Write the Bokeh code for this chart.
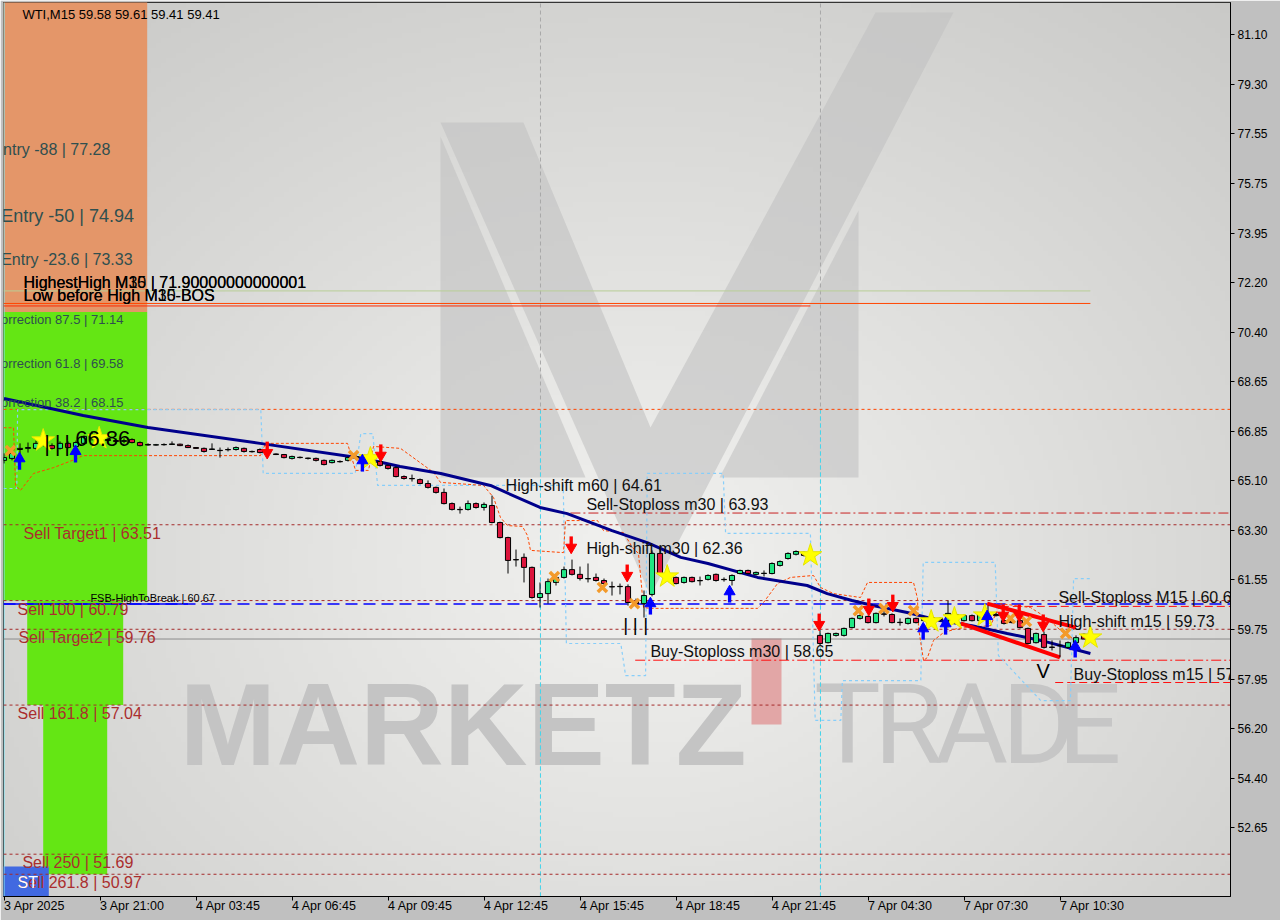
import numpy as np
from bokeh.plotting import figure
from bokeh.models import Range1d, FixedTicker, Label, NumeralTickFormatter
from bokeh.embed import file_html
from bokeh.resources import INLINE
from bokeh.core.properties import value

# ---------------- data ----------------
bar_open = [65.82, 65.89, 66.21, 66.25, 66.25, 66.39, 66.35, 66.25, 66.43, 66.32,
            66.43, 66.75, 66.64, 66.57, 66.53, 66.50, 66.57, 66.46, 66.39, 66.37,
            66.38, 66.39, 66.40, 66.35, 66.28, 66.25, 66.21, 66.18, 66.21, 66.21,
            66.25, 66.14, 66.21, 66.17, 66.05, 66.03, 65.89, 65.93, 65.90, 65.89,
            65.82, 65.74, 65.78, 65.82, 65.92, 65.96, 65.92, 65.78, 65.64, 65.56,
            65.24, 65.17, 65.13, 64.99, 64.85, 64.67, 64.27, 64.06, 64.06, 64.27,
            64.13, 64.20, 63.59, 63.05, 62.26, 62.34, 61.98, 60.90, 61.04, 61.44,
            61.62, 61.90, 61.73, 61.58, 61.62, 61.51, 61.29, 61.29, 61.29, 60.76,
            60.68, 61.01, 62.48, 61.76, 61.62, 61.44, 61.62, 61.51, 61.55, 61.73,
            61.55, 61.51, 61.76, 61.87, 61.73, 61.77, 61.76, 62.05, 62.30, 62.45,
            62.52, 62.41, 59.54, 59.28, 59.54, 59.54, 59.82, 60.15, 60.22, 60.00,
            60.31, 60.29, 60.01, 59.97, 60.15, 60.07, 60.18, 60.15, 60.07, 60.29,
            60.07, 60.25, 60.07, 60.25, 60.29, 60.07, 60.04, 60.07, 59.79, 59.28,
            59.57, 59.12, 59.17, 59.11, 59.28, 59.58]
bar_high = [66.07, 66.17, 66.43, 66.46, 66.53, 66.61, 66.43, 66.50, 66.50, 66.53,
            66.71, 66.86, 66.68, 66.64, 66.61, 66.61, 66.61, 66.50, 66.43, 66.41,
            66.43, 66.50, 66.42, 66.39, 66.30, 66.28, 66.43, 66.28, 66.28, 66.32,
            66.28, 66.17, 66.25, 66.21, 66.07, 66.05, 65.99, 65.96, 65.92, 65.92,
            65.85, 65.85, 65.82, 65.96, 66.00, 66.03, 65.99, 65.82, 65.67, 65.60,
            65.28, 65.31, 65.17, 65.10, 64.88, 64.81, 64.31, 64.16, 64.38, 64.31,
            64.31, 64.56, 63.62, 63.08, 62.62, 62.48, 62.01, 61.44, 61.58, 61.69,
            62.01, 62.26, 62.01, 62.12, 61.76, 61.58, 61.47, 61.40, 61.37, 60.86,
            61.15, 62.59, 62.66, 61.83, 61.65, 61.65, 61.65, 61.65, 61.73, 61.76,
            61.62, 61.73, 61.90, 61.90, 61.83, 61.87, 62.16, 62.23, 62.52, 62.59,
            62.55, 62.45, 59.72, 59.64, 59.64, 59.82, 60.18, 60.29, 60.25, 60.36,
            60.43, 60.33, 60.15, 60.18, 60.18, 60.22, 60.25, 60.18, 60.79, 60.36,
            60.29, 60.29, 60.33, 60.61, 60.36, 60.11, 60.11, 60.11, 59.82, 59.64,
            59.68, 59.36, 59.36, 59.32, 59.54, 59.61]
bar_low = [65.71, 65.82, 65.99, 66.10, 66.21, 66.32, 66.21, 66.21, 66.25, 66.28,
           66.39, 66.53, 66.53, 66.46, 66.43, 66.43, 66.43, 66.32, 66.35, 66.35,
           66.35, 66.37, 66.33, 66.26, 66.23, 66.10, 66.20, 65.92, 66.14, 66.17,
           66.10, 66.10, 66.07, 66.07, 66.01, 65.89, 65.85, 65.89, 65.85, 65.78,
           65.64, 65.71, 65.74, 65.78, 65.89, 65.85, 65.78, 65.60, 65.49, 65.21,
           65.13, 65.06, 64.96, 64.81, 64.63, 64.24, 64.02, 63.91, 64.02, 64.09,
           64.02, 63.56, 63.02, 61.76, 62.01, 61.44, 60.86, 60.54, 60.68, 61.33,
           61.58, 61.69, 61.51, 61.44, 61.47, 61.29, 60.97, 61.01, 60.61, 60.58,
           60.18, 60.94, 61.73, 61.62, 61.37, 61.40, 61.44, 61.33, 61.51, 61.47,
           61.47, 61.33, 61.73, 61.73, 61.69, 61.65, 61.73, 62.01, 62.26, 62.41,
           62.37, 62.34, 59.18, 59.25, 59.50, 59.50, 59.79, 60.11, 59.97, 59.97,
           60.22, 59.97, 59.89, 59.93, 59.97, 60.04, 60.11, 60.04, 60.04, 60.18,
           60.04, 60.04, 60.04, 60.22, 60.22, 59.93, 59.97, 59.79, 59.22, 59.25,
           59.07, 59.00, 58.75, 59.07, 59.25, 59.41]
bar_close = [65.92, 66.07, 66.25, 66.28, 66.43, 66.50, 66.25, 66.43, 66.28, 66.46,
             66.68, 66.64, 66.57, 66.53, 66.50, 66.53, 66.46, 66.35, 66.37, 66.38,
             66.39, 66.41, 66.35, 66.28, 66.25, 66.14, 66.23, 66.17, 66.20, 66.28,
             66.14, 66.13, 66.10, 66.10, 66.03, 65.92, 65.96, 65.92, 65.89, 65.82,
             65.67, 65.82, 65.77, 65.92, 65.96, 65.92, 65.85, 65.64, 65.53, 65.24,
             65.17, 65.16, 64.99, 64.85, 64.67, 64.27, 64.06, 64.05, 64.27, 64.13,
             64.24, 63.59, 63.05, 62.23, 62.25, 61.98, 60.90, 61.04, 61.47, 61.62,
             61.90, 61.73, 61.58, 61.57, 61.51, 61.40, 61.28, 61.30, 60.72, 60.68,
             60.97, 62.48, 61.76, 61.65, 61.40, 61.62, 61.47, 61.50, 61.69, 61.51,
             61.54, 61.69, 61.87, 61.76, 61.80, 61.76, 62.12, 62.19, 62.48, 62.55,
             62.41, 62.38, 59.25, 59.61, 59.61, 59.79, 60.15, 60.25, 60.00, 60.33,
             60.30, 60.00, 60.00, 60.15, 60.00, 60.18, 60.15, 60.11, 60.33, 60.22,
             60.25, 60.07, 60.29, 60.29, 60.25, 59.97, 60.00, 59.82, 59.25, 59.61,
             59.11, 59.11, 59.18, 59.28, 59.46, 59.41]

x_tick_bars = [0, 12, 24, 36, 48, 60, 72, 84, 96, 108, 120, 132]
x_tick_labels = ["3 Apr 2025", "3 Apr 21:00", "4 Apr 03:45", "4 Apr 06:45", "4 Apr 09:45",
                 "4 Apr 12:45", "4 Apr 15:45", "4 Apr 18:45", "4 Apr 21:45", "7 Apr 04:30",
                 "7 Apr 07:30", "7 Apr 10:30"]
y_ticks = [81.10, 79.30, 77.55, 75.75, 73.95, 72.20, 70.40, 68.65, 66.85, 65.10,
           63.30, 61.55, 59.75, 57.95, 56.20, 54.40, 52.65]

# moving average (navy)
ma_bar = [0, 9.9, 18, 32, 45, 49.5, 54.6, 60.8, 67, 70.4, 76, 80.4, 84.6, 88, 94.2,
          100.4, 102.9, 106, 108.6, 112.9, 117, 121, 125.4, 129.6, 135.8]
ma_price = [68.04, 67.43, 67.00, 66.43, 65.89, 65.60, 65.35, 64.92, 64.13, 63.91, 63.30,
            62.87, 62.34, 62.12, 61.62, 61.33, 61.04, 60.79, 60.61, 60.36, 60.07, 59.89,
            59.61, 59.36, 58.89]

# orange dashed envelope
env_bar = [-0.06, 1.19, 1.44, 2.06, 3.69, 6.19, 9.19, 9.81, 32.06, 32.69, 42.94, 43.94,
           45.56, 46.19, 49.56, 53.69, 54.56, 59.94, 61.19, 62.06, 62.94, 64.81, 65.44,
           65.81, 69.94, 70.19, 74.19, 74.94, 77.44, 78.56, 79.31, 79.94, 80.81, 94.19,
           94.94, 96.69, 98.31, 101.19, 102.06, 103.69, 107.06, 107.94, 113.69, 114.19,
           114.31, 114.94, 115.44, 116.19, 117.44, 119.19, 123.31, 124.56, 128.31,
           130.44, 132.06, 133.94]
env_price = [66.99, 66.99, 64.92, 64.74, 65.35, 65.56, 65.89, 65.99, 65.99, 66.43, 66.43,
             65.46, 65.46, 66.32, 66.25, 65.39, 65.03, 64.92, 64.49, 63.77, 63.48, 63.45,
             63.12, 62.59, 62.51, 63.66, 63.66, 63.30, 63.23, 62.69, 62.48, 60.54, 60.51,
             60.51, 60.72, 61.40, 61.62, 61.69, 61.26, 61.04, 60.90, 61.44, 61.44, 60.86,
             59.82, 58.64, 58.75, 59.36, 59.64, 59.79, 59.89, 60.68, 60.54, 60.15, 59.72,
             59.36]

# light-blue dashed channel
chan_bar = [-0.06, 1.6, 1.7, 32.1, 32.4, 43.9, 44.6, 46.1, 46.7, 69.9, 70.3, 77.1, 77.7,
            80.2, 80.4, 89.9, 90.2, 100.8, 101.4, 104.6, 104.8, 114.6, 114.9, 123.9,
            124.3, 129.6, 133.3, 133.7, 136.1]
chan_price = [64.81, 64.81, 67.64, 67.64, 65.35, 65.35, 66.78, 66.78, 64.92, 64.92, 59.25,
              59.25, 58.10, 58.10, 65.35, 65.35, 63.20, 63.20, 56.49, 56.49, 57.92, 57.92,
              62.16, 62.16, 58.82, 57.20, 57.20, 61.58, 61.58]

# signals
up_bar = [1.94, 8.94, 44.8, 80.8, 90.7, 114.9, 117.7, 122.9, 133.9]
up_price = [65.99, 66.25, 65.92, 60.79, 61.22, 59.89, 60.07, 60.33, 59.25]
down_bar = [32.9, 47.1, 70.9, 77.9, 101.9, 108.1, 111.1, 124.9, 126.9, 129.9]
down_price = [65.99, 65.89, 62.59, 61.58, 59.82, 60.36, 60.50, 60.15, 60.15, 59.79]
cross_bar = [0.8, 43.7, 68.8, 74.8, 78.8, 106.8, 110.0, 113.7, 125.8, 127.8, 132.7]
cross_price = [66.17, 65.99, 61.65, 61.26, 60.68, 60.43, 60.50, 60.43, 60.15, 60.04, 59.61]
star_bar = [4.9, 11.9, 45.8, 82.9, 100.8, 115.9, 118.8, 122.6, 135.8]
star_price = [66.53, 66.61, 65.89, 61.65, 62.41, 60.04, 60.15, 60.25, 59.46]

# zones (bar_left, bar_right, price_top, price_bottom)
zone_left = [-0.5, -0.5, 2.9, 4.9, -0.5]
zone_right = [17.9, 17.9, 14.9, 12.9, 5.6]
zone_top = [83.0, 71.14, 60.79, 57.04, 51.25]
zone_bottom = [71.14, 60.79, 57.04, 50.97, 50.0]
zone_color = ["#e49669", "#64e614", "#64e614", "#64e614", "#4169e1"]

# full-width levels
lvl_price = [63.51, 60.79, 59.76, 57.04, 51.69, 50.97]
lvl_names = ["Sell Target1 | 63.51", "Sell 100 | 60.79", "Sell Target2 | 59.76",
             "Sell 161.8 | 57.04", "Sell  250 | 51.69", "Sell  261.8 | 50.97"]
lvl_text_bar = [2.44, 1.7, 1.8, 1.7, 2.3, 1.7]

fib_price = [77.28, 74.94, 73.33, 71.14, 69.58, 68.15]
fib_names = ["Entry -88 | 77.28", "Entry -50 | 74.94", "Entry -23.6 | 73.33",
             "correction 87.5 | 71.14", "correction 61.8 | 69.58", "correction 38.2 | 68.15"]
fib_text_bar = [-1.45, -0.35, -0.35, -1.2, -1.2, -1.2]
fib_size = ["16px", "18px", "16px", "13px", "13px", "13px"]

shift_price = [64.61, 63.93, 62.36, 58.65, 60.60, 59.73, 57.85]
shift_names = ["High-shift m60 | 64.61", "Sell-Stoploss m30 | 63.93", "High-shift m30 | 62.36",
               "Buy-Stoploss m30 | 58.65", "Sell-Stoploss M15 | 60.60", "High-shift m15 | 59.73",
               "Buy-Stoploss m15 | 57.85"]
shift_text_bar = [62.7, 72.8, 72.8, 80.8, 131.8, 131.8, 133.7]

axis_tags = [67.65, 63.51, 60.79, 60.67, 59.76, 59.41, 57.04, 51.69, 50.97]
axis_tag_colors = ["#ff4500", "#a52a2a", "#a52a2a", "#0000ff", "#a52a2a", "#000000",
                   "#a52a2a", "#a52a2a", "#a52a2a"]

last_price = 59.41
fsb_price = 60.67

# ---------------- figure ----------------
X0, X1 = -0.0625, 153.3125
Y0, Y1 = 50.172, 82.248
FW, FH = 1227, 894
PXB = (X1 - X0) / FW
PYP = (Y1 - Y0) / FH

p = figure(frame_width=FW, frame_height=FH, x_range=Range1d(X0, X1), y_range=Range1d(Y0, Y1),
           output_backend="svg", toolbar_location=None, y_axis_location="right",
           min_border_left=3, min_border_right=50, min_border_top=2, min_border_bottom=24)
p.border_fill_color = "#c0c0c0"
p.background_fill_color = "#e2e2e2"
p.outline_line_color = "black"
p.outline_line_width = 1
p.grid.visible = False

# gradient background
H, W = 180, 250
yy, xx = np.mgrid[0:H, 0:W]
gx = xx / (W - 1) * FW
gy = (1 - yy / (H - 1)) * FH
d = np.sqrt(((gx - 640) / 760.0) ** 2 + ((gy - 560) / 620.0) ** 2)
v = np.clip(242 - 34 * d, 0, 255).astype(np.uint8)
img = np.empty((H, W), dtype=np.uint32)
view = img.view(dtype=np.uint8).reshape((H, W, 4))
view[..., 0] = v
view[..., 1] = v
view[..., 2] = np.clip(v.astype(int) - 2, 0, 255).astype(np.uint8)
view[..., 3] = 255
p.image_rgba(image=[img], x=X0, y=Y0, dw=X1 - X0, dh=Y1 - Y0)

def bx(px):
    return X0 + px * PXB

def py(pix):
    return Y1 - pix * PYP

# watermark logo (decoration, placed in screen pixels)
logo_v = [(437, 120), (520, 120), (647, 425), (872, 10), (950, 10), (647, 593)]
logo_left = [(437, 134), (437, 475), (582, 475)]
logo_right = [(855, 208), (855, 475), (716, 475)]
for poly in [logo_left, logo_right, logo_v]:
    p.patch([bx(a) for a, b in poly], [py(b) for a, b in poly], fill_color="#c2c2c2",
            fill_alpha=0.6, line_color=None)

# watermark text
p.text(x=[bx(176)], y=[py(722)], text=["MARKETZ"], text_font=value("Liberation Sans"),
       text_font_style="bold", text_font_size="116px", text_color="#c4c4c4",
       text_baseline="alphabetic", text_align="left")
p.quad(left=[bx(748)], right=[bx(778)], top=[py(636)], bottom=[py(722)],
       fill_color="#e2a6a6", line_color=None)
for ch, cx in zip("TRADE", [844, 905, 968, 1035, 1086]):
    p.text(x=[bx(cx)], y=[py(722)], text=[ch], text_font=value("Roboto"),
           text_font_size="112px", text_color="#c6c6c6", text_baseline="alphabetic",
           text_align="center")

# zones
p.quad(left=zone_left, right=zone_right, top=zone_top, bottom=zone_bottom,
       fill_color=zone_color, line_color=None)

# period separators
for sb in [67.06, 102.06]:
    p.segment(x0=[sb], y0=[Y0], x1=[sb], y1=[Y1], line_color="#a8a8a8", line_dash="4 3")
    p.segment(x0=[sb], y0=[Y0], x1=[sb], y1=[67.6], line_color="#3fd8f0", line_dash="4 3")
p.segment(x0=[0.0], y0=[Y0], x1=[0.0], y1=[Y1], line_color="#7fe8f8", line_width=1)

# level lines
p.segment(x0=[X0], y0=[67.65], x1=[X1], y1=[67.65], line_color="#ff4500", line_dash="3 3")
p.segment(x0=[X0] * len(lvl_price), y0=lvl_price, x1=[X1] * len(lvl_price), y1=lvl_price,
          line_color="#a52a2a", line_dash="3 3")
p.segment(x0=[X0], y0=[last_price], x1=[X1], y1=[last_price], line_color="#8c8c8c", line_width=1)
p.segment(x0=[X0], y0=[fsb_price], x1=[X1], y1=[fsb_price], line_color="#0000ff",
          line_dash="12 6", line_width=1.5)
p.segment(x0=[X0], y0=[fsb_price], x1=[23.0], y1=[fsb_price], line_color="#0000ff", line_width=1.5)
p.segment(x0=[70.8], y0=[63.93], x1=[X1], y1=[63.93], line_color="#c82020", line_dash="10 3 2 3")
p.segment(x0=[78.9], y0=[58.65], x1=[X1], y1=[58.65], line_color="#ff1010", line_dash="10 3 2 3")
p.segment(x0=[124.6], y0=[60.58], x1=[X1], y1=[60.58], line_color="#ff1010", line_dash="8 4")
p.segment(x0=[131.4], y0=[57.85], x1=[X1], y1=[57.85], line_color="#ff1010", line_dash="8 4")
p.segment(x0=[X0], y0=[71.90], x1=[135.8], y1=[71.90], line_color="#b9cf96", line_width=1)
p.segment(x0=[X0], y0=[71.45], x1=[135.8], y1=[71.45], line_color="#ff4500", line_width=1)
p.segment(x0=[X0], y0=[71.36], x1=[100.8], y1=[71.36], line_color="#ff2a00", line_width=1)

# indicator lines
p.line(chan_bar, chan_price, line_color="#87cefa", line_dash="3 3", line_width=1.2)
p.line(env_bar, env_price, line_color="#ff4500", line_dash="3 2", line_width=1)
p.line(ma_bar, ma_price, line_color="#00008b", line_width=3)

# trend lines (red)
p.line([122.9, 134.0], [60.68, 59.82], line_color="#ff0000", line_width=4)
p.line([119.6, 132.0], [59.97, 58.75], line_color="#ff0000", line_width=4)

# candles
idx = list(range(len(bar_open)))
top = [max(o, c) for o, c in zip(bar_open, bar_close)]
bot = [min(o, c) for o, c in zip(bar_open, bar_close)]
cols = ["#20e682" if c >= o else "#dc143c" for o, c in zip(bar_open, bar_close)]
p.segment(x0=idx, y0=bar_low, x1=idx, y1=bar_high, line_color="black", line_width=1)
p.vbar(x=idx, width=0.64, top=top, bottom=bot, fill_color=cols, line_color="black", line_width=1)

# signals
p.scatter(cross_bar, cross_price, marker="x", size=13, line_color="#f39a2a", line_width=3.5)
p.scatter(star_bar, star_price, marker="star", size=24, fill_color="#ffff00",
          line_color="#e6e600", line_width=1)
up_head = [pr - 3 * PYP for pr in up_price]
p.vbar(x=up_bar, width=0.42, top=[pr - 5 * PYP for pr in up_price],
       bottom=[pr - 14 * PYP for pr in up_price], fill_color="#0000ff", line_color=None)
p.scatter(up_bar, up_head, marker="triangle", size=11, fill_color="#0000ff", line_color="#0000ff")
dn_head = [pr + 3 * PYP for pr in down_price]
p.vbar(x=down_bar, width=0.42, top=[pr + 14 * PYP for pr in down_price],
       bottom=[pr + 5 * PYP for pr in down_price], fill_color="#ff0000", line_color=None)
p.scatter(down_bar, dn_head, marker="inverted_triangle", size=11, fill_color="#ff0000",
          line_color="#ff0000")

# texts
F = value("Liberation Sans")
p.text(x=fib_text_bar, y=fib_price, text=fib_names, text_font=F, text_font_size=fib_size,
       text_color="#2f4f4f", text_baseline="top", text_align="left")
p.text(x=lvl_text_bar, y=lvl_price, text=lvl_names, text_font=F, text_font_size="16px",
       text_color="#aa2e2e", text_baseline="top", text_align="left")
p.text(x=shift_text_bar, y=shift_price, text=shift_names, text_font=F, text_font_size="16px",
       text_color="#101010", text_baseline="bottom", text_align="left")
p.text(x=[2.44, 2.44], y=[71.90, 71.90],
       text=["HighestHigh   M30 | 71.90000000000001", "HighestHigh   M15 | 71.90000000000001"],
       text_font=F, text_font_size="16px", text_color="black", text_baseline="bottom")
p.text(x=[2.44, 2.44], y=[71.42, 71.42],
       text=["Low before High   M30-BOS", "Low before High   M15-BOS"],
       text_font=F, text_font_size="16px", text_color="black", text_baseline="bottom")
p.text(x=[10.8], y=[fsb_price], text=["FSB-HighToBreak | 60.67"], text_font=F,
       text_font_size="11px", text_color="black", text_baseline="bottom")
p.text(x=[8.9], y=[66.86], text=["66.86"], text_font=F, text_font_size="22px",
       text_color="black", text_baseline="top")
p.text(x=[5.4, 6.7, 7.9], y=[66.86] * 3, text=["|"] * 3, text_font=F, text_font_size="22px",
       text_color="black", text_baseline="top", text_align="center")
p.text(x=[77.7, 78.9, 80.2], y=[60.29] * 3, text=["|"] * 3, text_font=F,
       text_font_size="19px", text_color="black", text_baseline="top", text_align="center")
p.text(x=[129.9], y=[58.64], text=["V"], text_font=F, text_font_size="20px",
       text_color="black", text_baseline="top", text_align="center")
p.text(x=[1.7], y=[50.97], text=["ST"], text_font=F, text_font_size="16px",
       text_color="white", text_baseline="top", text_align="left")
p.text(x=[2.3], y=[py(4)], text=["WTI,M15  59.58 59.61 59.41 59.41"], text_font=F,
       text_font_size="13px", text_color="black", text_baseline="top")

# right-axis price tags
for pr, col in zip(axis_tags, axis_tag_colors):
    p.add_layout(Label(x=X1, y=pr, x_offset=1, text=" %.2f " % pr, text_font="Liberation Sans",
                       text_font_size="12px", text_color="white", text_align="left",
                       text_baseline="middle", background_fill_color=col, padding=1))

# axes
p.yaxis.ticker = FixedTicker(ticks=y_ticks)
p.yaxis.formatter = NumeralTickFormatter(format="0.00")
p.xaxis.ticker = FixedTicker(ticks=x_tick_bars)
p.xaxis.major_label_overrides = {b: l for b, l in zip(x_tick_bars, x_tick_labels)}
# a tiny negative angle makes the labels start at their tick (left aligned)
p.xaxis.major_label_orientation = -1e-6
for ax in [p.xaxis[0], p.yaxis[0]]:
    ax.axis_line_color = "black"
    ax.major_tick_line_color = "black"
    ax.major_tick_in = 0
    ax.major_tick_out = 4
    ax.minor_tick_line_color = None
    ax.major_label_text_font = "Liberation Sans"
    ax.major_label_text_font_size = "12px"
    ax.major_label_text_color = "black"
    ax.major_label_standoff = 3
p.xaxis.major_label_standoff = 5
p.xaxis.major_label_text_font_size = "12.5px"

open("out.html", "w").write(file_html(p, INLINE))
